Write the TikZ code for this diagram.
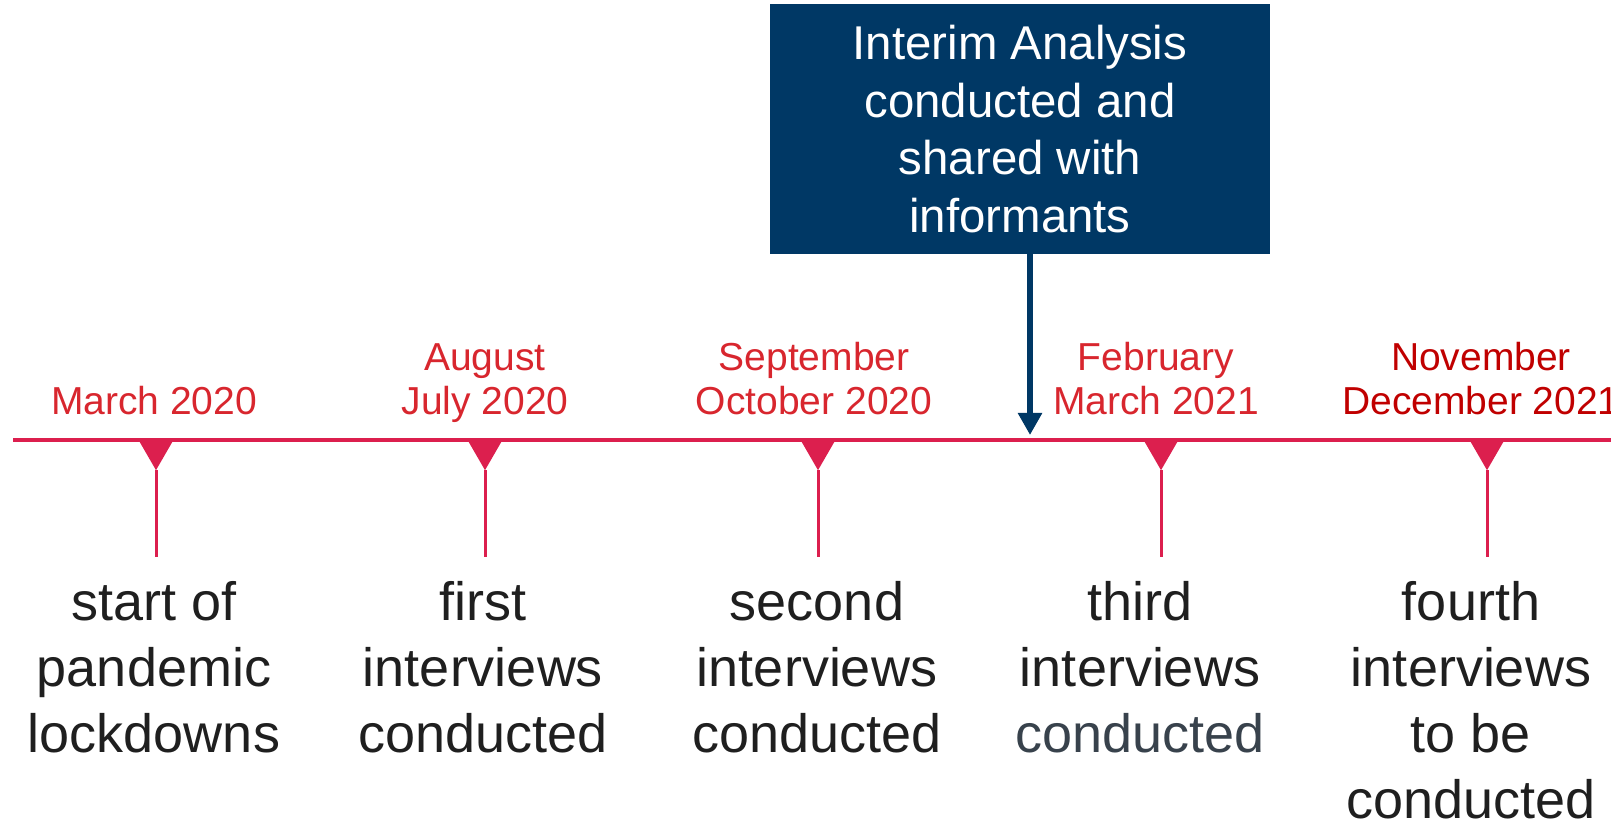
\documentclass[tikz,border=0pt]{standalone}
\usepackage{fontspec}
\setmainfont{Liberation Sans}
\usetikzlibrary{shapes.geometric,arrows.meta}
\definecolor{lineRed}{HTML}{DC1F4E}
\definecolor{dateRed}{HTML}{D8262E}
\definecolor{darkRed}{HTML}{C00000}
\definecolor{boxNavy}{HTML}{003865}
\definecolor{slateGray}{HTML}{38424C}

\begin{document}
\begin{tikzpicture}[
        x=0.5pt, y=-0.5pt,
        dateNode/.style={text=dateRed, align=center, inner sep=0pt, font=\fontsize{19.5}{22}\selectfont},
        eventNode/.style={text=black!88, align=center, anchor=north, inner sep=0pt, font=\fontsize{27}{33}\selectfont},
        markNode/.style={regular polygon, regular polygon sides=3, shape border rotate=180, fill=lineRed, minimum size=20.2pt, inner sep=0pt, outer sep=0pt},
        stemLine/.style={draw=lineRed, line width=1.5pt},
        boxNode/.style={fill=boxNavy, text=white, align=center, minimum width=250pt, minimum height=125pt, inner sep=0pt, font=\fontsize{23.7}{28.8}\selectfont}
    ]
        \useasboundingbox (0,0) rectangle (1611,823);

        % Timeline
        \coordinate (tlStart) at (13,440);
        \coordinate (tlEnd) at (1611,440);
        \draw[lineRed, line width=2pt] (tlStart) -- (tlEnd);

        % Stems and markers
        \coordinate (s1) at (156,557);
        \coordinate (s2) at (485,557);
        \coordinate (s3) at (818,557);
        \coordinate (s4) at (1161,557);
        \coordinate (s5) at (1487,557);
        \node[markNode] (m1) at (156,450) {};
        \node[markNode] (m2) at (485,450) {};
        \node[markNode] (m3) at (818,450) {};
        \node[markNode] (m4) at (1161,450) {};
        \node[markNode] (m5) at (1487,450) {};
        \draw[stemLine] (m1.south) -- (s1);
        \draw[stemLine] (m2.south) -- (s2);
        \draw[stemLine] (m3.south) -- (s3);
        \draw[stemLine] (m4.south) -- (s4);
        \draw[stemLine] (m5.south) -- (s5);

        % Dates
        \node[dateNode] (d1) at (154,401) {March 2020};
        \node[dateNode] (d2) at (485,383) {August\\July 2020};
        \node[dateNode] (d3) at (814,379) {September\\October 2020};
        \node[dateNode] (d4) at (1156,379) {February\\March 2021};
        \node[dateNode, text=darkRed] (d5) at (1481,379) {November\\December 2021};

        % Events
        \node[eventNode] (e1) at (154,581) {start of\\pandemic\\lockdowns};
        \node[eventNode] (e2) at (483,581) {first\\interviews\\conducted};
        \node[eventNode] (e3) at (817,581) {second\\interviews\\conducted};
        \node[eventNode] (e4) at (1140,581) {third\\interviews\\\textcolor{slateGray}{conducted}};
        \node[eventNode] (e5) at (1471,581) {fourth\\interviews\\to be\\conducted};

        % Interim analysis
        \node[boxNode] (ia) at (1020,129) {Interim Analysis\\conducted and\\shared with\\informants};
        \coordinate (iaTip) at (1030,435);
        \draw[boxNavy, line width=3pt, -{Triangle[width=11.5pt, length=11pt]}] (ia.south -| iaTip) -- (iaTip);
    \end{tikzpicture}
\end{document}
